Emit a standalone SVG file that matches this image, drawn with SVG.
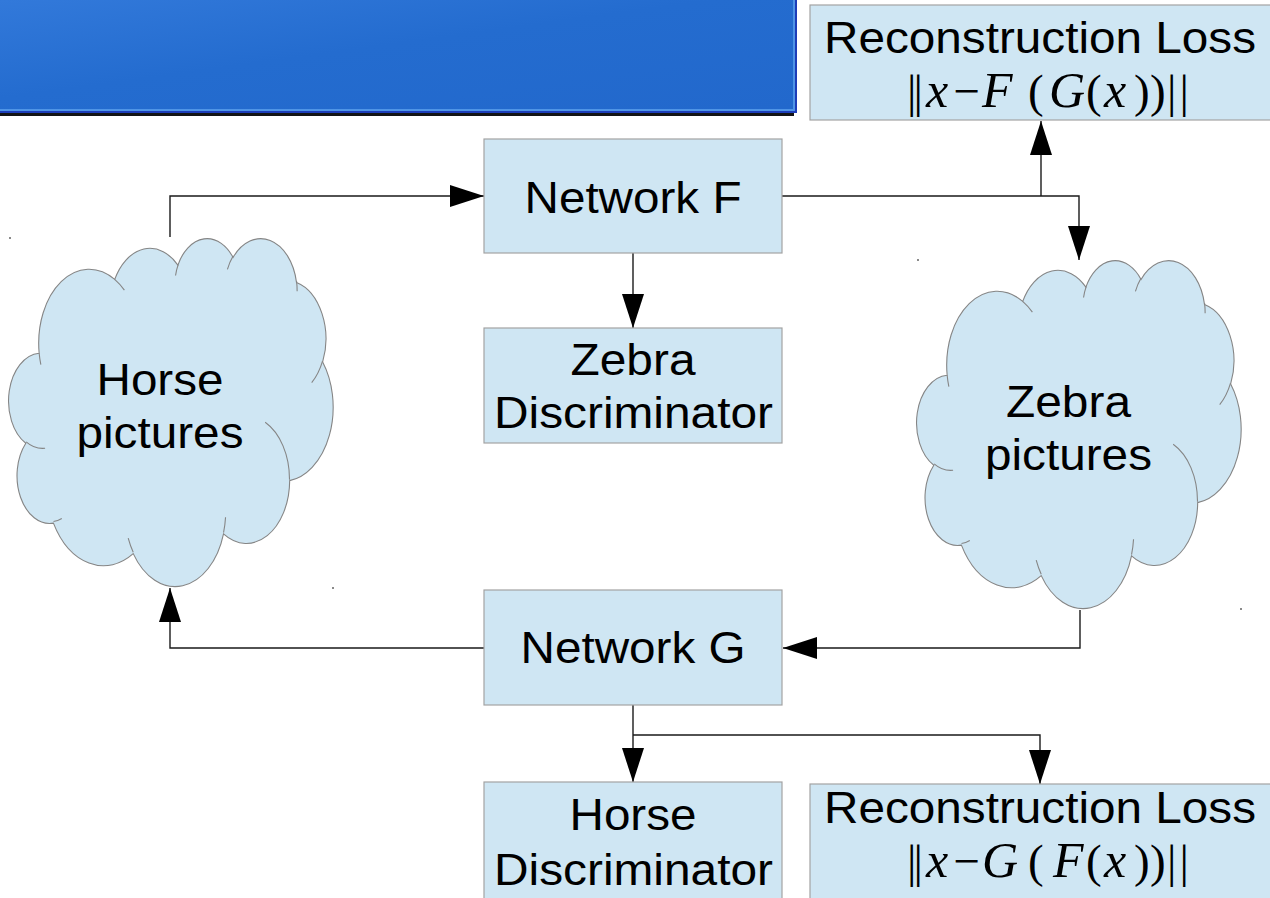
<svg xmlns="http://www.w3.org/2000/svg" xmlns:xlink="http://www.w3.org/1999/xlink" width="1270" height="898" viewBox="0 0 1270 898">
  <style>
    .box { fill: #cfe6f3; stroke: #a3a3a3; stroke-width: 1.2; }
    .cloud { fill: #cfe6f3; stroke: #858585; stroke-width: 1.1; vector-effect: non-scaling-stroke; }
    .cloudline { fill: none; stroke: #858585; stroke-width: 1.1; vector-effect: non-scaling-stroke; }
    .lbl { font-family: "Liberation Sans", Arial, sans-serif; font-size: 44px; fill: #000; text-anchor: middle; }
    .math { font-family: "Liberation Serif", "Times New Roman", serif; font-size: 47px; fill: #000; }
    .mi { font-style: italic; font-size: 50px; }
    .conn { fill: none; stroke: #1a1a1a; stroke-width: 1.4; }
    .dot { fill: #8a8a8a; }
  </style>
  <defs>
    <linearGradient id="barGrad" x1="0" y1="0" x2="1" y2="1">
      <stop offset="0" stop-color="#3279da"/>
      <stop offset="0.45" stop-color="#246ccf"/>
      <stop offset="1" stop-color="#2268cc"/>
    </linearGradient>
    <marker id="arrow" markerUnits="userSpaceOnUse" markerWidth="34" markerHeight="22" refX="34" refY="11" orient="auto" viewBox="0 0 34 22">
      <path d="M0,0 L34,11 L0,22 Z" fill="#000"/>
    </marker>
    <g id="cloudShape">
      <path class="cloud" d="M3900,14370 A6753,9190 0 0 1 14006,5203 A5333,7267 0 0 1 22457,3434 A4365,5945 0 0 1 29833,2479 A4857,6595 0 0 1 38317,5576 A5333,7273 0 0 1 41817,15460 A6775,9220 0 0 1 37404,30205 A5785,7867 0 0 1 28556,36815 A6752,9215 0 0 1 16482,39269 A7720,10543 0 0 1 5807,35479 A4360,5918 0 0 1 2115,25558 A4345,5945 0 0 1 3900,14370 Z"/>
      <path class="cloudline" d="M4693,26177 A4345,5945 0 0 1 2159,25380 M6928,34899 A4360,5918 0 0 1 5820,35280 M16478,39090 A6752,9215 0 0 1 15809,37348 M28827,34751 A6752,9215 0 0 1 28560,36660 M34129,22954 A5785,7867 0 0 1 37381,30090 M41798,15354 A5333,7273 0 0 1 40349,18031 M38324,5426 A4857,6595 0 0 1 38400,6690 M29078,3952 A4857,6595 0 0 1 29821,2338 M22141,4720 A4365,5945 0 0 1 22500,3331 M14000,5192 A6753,9190 0 0 1 15299,6540 M4127,15789 A6753,9190 0 0 1 3900,14370"/>
    </g>
  </defs>

  <g id="title-bar">
    <rect x="0" y="112" width="794" height="4" fill="#141414"/>
    <rect x="0" y="0" width="797" height="113" fill="#1c3db8"/>
    <rect x="0" y="0" width="795" height="111" fill="#4f95e6"/>
    <rect x="0" y="0" width="793" height="109" fill="url(#barGrad)"/>
  </g>

  <g id="connectors">
    <path class="conn" d="M170,237 V196 H484" marker-end="url(#arrow)"/>
    <path class="conn" d="M782,196 H1079 V260" marker-end="url(#arrow)"/>
    <path class="conn" d="M1041,196 V121" marker-end="url(#arrow)"/>
    <path class="conn" d="M633,253 V328" marker-end="url(#arrow)"/>
    <path class="conn" d="M1080,610 V648 H783" marker-end="url(#arrow)"/>
    <path class="conn" d="M484,648 H170 V588" marker-end="url(#arrow)"/>
    <path class="conn" d="M633,705 V782" marker-end="url(#arrow)"/>
    <path class="conn" d="M633,735 H1040 V784" marker-end="url(#arrow)"/>
  </g>

  <g id="recon-loss-top">
    <rect class="box" x="810" y="5" width="480" height="115"/>
    <text class="lbl" x="1040" y="53" textLength="432" lengthAdjust="spacingAndGlyphs">Reconstruction Loss</text>
    <text class="math" y="107"><tspan x="907" letter-spacing="-3">||</tspan><tspan class="mi" x="926">x</tspan><tspan x="953.5">−</tspan><tspan class="mi" x="982">F</tspan><tspan x="1028">(</tspan><tspan class="mi" x="1049">G</tspan><tspan x="1086">(</tspan><tspan class="mi" x="1104">x</tspan><tspan x="1134">)</tspan><tspan x="1150">)</tspan><tspan x="1167" letter-spacing="3">||</tspan></text>
  </g>

  <g id="network-f">
    <rect class="box" x="484" y="139" width="298" height="114"/>
    <text class="lbl" x="633" y="213" textLength="217" lengthAdjust="spacingAndGlyphs">Network F</text>
  </g>

  <g id="zebra-discriminator">
    <rect class="box" x="484" y="328" width="298" height="115"/>
    <text class="lbl" x="633" y="375" textLength="125" lengthAdjust="spacingAndGlyphs">Zebra</text>
    <text class="lbl" x="633.5" y="428" textLength="279" lengthAdjust="spacingAndGlyphs">Discriminator</text>
  </g>

  <g id="horse-pictures">
    <use xlink:href="#cloudShape" href="#cloudShape" transform="translate(10,237.5) scale(0.007477,0.00805)"/>
    <text class="lbl" x="160" y="395" textLength="127" lengthAdjust="spacingAndGlyphs">Horse</text>
    <text class="lbl" x="160" y="448" textLength="167" lengthAdjust="spacingAndGlyphs">pictures</text>
    <rect class="dot" x="9" y="237" width="2" height="2"/>
    <rect class="dot" x="332" y="587" width="2" height="2"/>
  </g>

  <g id="zebra-pictures">
    <use xlink:href="#cloudShape" href="#cloudShape" transform="translate(918,259.5) scale(0.007477,0.00805)"/>
    <text class="lbl" x="1068.5" y="417" textLength="125" lengthAdjust="spacingAndGlyphs">Zebra</text>
    <text class="lbl" x="1068.5" y="470" textLength="167" lengthAdjust="spacingAndGlyphs">pictures</text>
    <rect class="dot" x="917" y="259" width="2" height="2"/>
    <rect class="dot" x="1240" y="608" width="2" height="2"/>
  </g>

  <g id="network-g">
    <rect class="box" x="484" y="590" width="298" height="115"/>
    <text class="lbl" x="633" y="663" textLength="225" lengthAdjust="spacingAndGlyphs">Network G</text>
  </g>

  <g id="horse-discriminator">
    <rect class="box" x="484" y="782" width="298" height="130"/>
    <text class="lbl" x="633" y="830" textLength="127" lengthAdjust="spacingAndGlyphs">Horse</text>
    <text class="lbl" x="633.5" y="885" textLength="279" lengthAdjust="spacingAndGlyphs">Discriminator</text>
  </g>

  <g id="recon-loss-bottom">
    <rect class="box" x="810" y="784" width="480" height="130"/>
    <text class="lbl" x="1040" y="823" textLength="432" lengthAdjust="spacingAndGlyphs">Reconstruction Loss</text>
    <text class="math" y="877"><tspan x="907" letter-spacing="-3">||</tspan><tspan class="mi" x="926">x</tspan><tspan x="953.5">−</tspan><tspan class="mi" x="982">G</tspan><tspan x="1028">(</tspan><tspan class="mi" x="1053">F</tspan><tspan x="1086">(</tspan><tspan class="mi" x="1104">x</tspan><tspan x="1134">)</tspan><tspan x="1150">)</tspan><tspan x="1167" letter-spacing="3">||</tspan></text>
  </g>
</svg>
